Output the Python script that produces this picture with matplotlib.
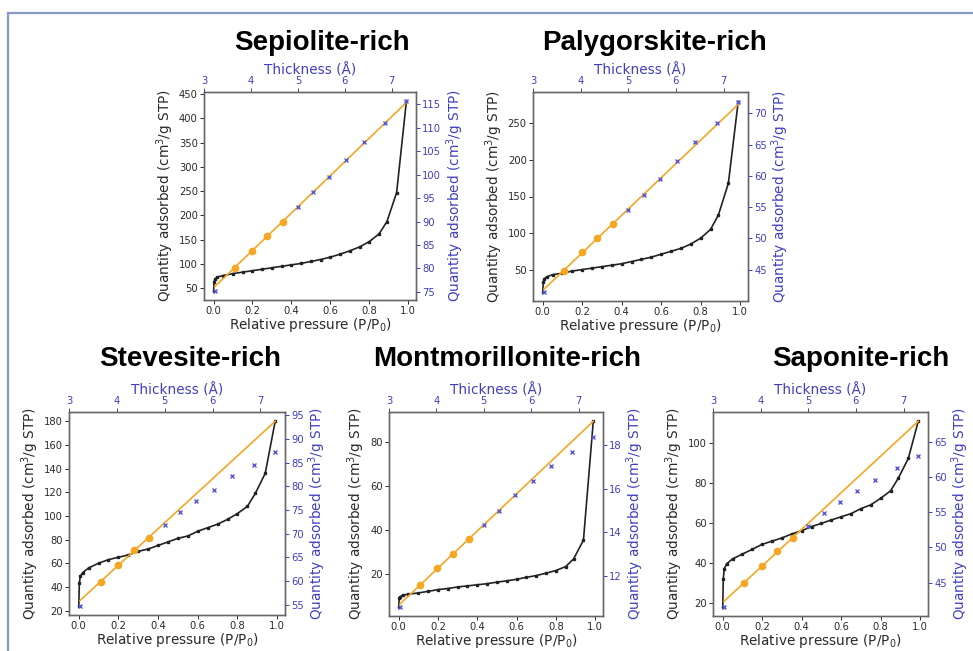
import matplotlib
matplotlib.use("Agg")
import matplotlib.pyplot as plt
import numpy as np
from matplotlib.lines import Line2D

# ---- data -------------------------------------------------------------
titles = ["Sepiolite-rich", "Palygorskite-rich", "Stevesite-rich",
          "Montmorillonite-rich", "Saponite-rich"]

# relative pressure points of the isotherms (P/P0)
pressure = [0.0005, 0.003, 0.008, 0.02, 0.05, 0.1, 0.15, 0.2, 0.25, 0.3,
            0.35, 0.4, 0.45, 0.5, 0.55, 0.6, 0.65, 0.7, 0.75, 0.8, 0.85,
            0.89, 0.94, 0.99]

# quantity adsorbed (cm3/g STP) along each isotherm
iso_sepiolite = [45, 63, 69, 73, 76, 80, 83, 86, 89, 92, 95, 98, 101, 105,
                 109, 114, 120, 127, 135, 146, 162, 187, 247, 435]
iso_palygorskite = [20, 33, 37, 40, 43, 45, 48, 50, 52, 54, 56, 58, 61, 64,
                    67, 71, 75, 79, 85, 93, 105, 125, 168, 280]
iso_stevensite = [24, 43, 49, 52, 56, 60, 63, 65, 67, 70, 72, 75, 78, 81,
                  83, 87, 90, 93, 97, 102, 108, 119, 136, 180]
iso_montmorillonite = [5, 8.8, 9.5, 10.3, 10.7, 11.3, 12, 12.8, 13.3, 14,
                       14.5, 15, 15.5, 16.2, 16.8, 17.5, 18.4, 19.2, 20.3,
                       21.5, 23.3, 26.8, 35.3, 89.5]
iso_saponite = [18, 32, 37, 39.5, 42, 44.4, 46.8, 49.3, 50.9, 52.5, 54.5,
                56.1, 58.2, 59.8, 61.5, 63.1, 64.7, 67.2, 69.1, 72.4, 76.1,
                82.6, 92.4, 111]

# statistical thickness (Angstrom) for the t-plot
thickness = [3.23, 3.66, 4.02, 4.35, 4.68, 5.0, 5.33, 5.66, 6.03, 6.41,
             6.86, 7.31]

# t-plot quantity adsorbed (cm3/g STP)
tplot_sepiolite = [75.3, 80.2, 83.8, 87.0, 90.0, 93.2, 96.3, 99.6, 103.2,
                   107.0, 111.1, 115.6]
tplot_palygorskite = [41.5, 44.85, 47.8, 50.0, 52.3, 54.6, 57.0, 59.5, 62.4,
                      65.4, 68.5, 71.9]
tplot_stevensite = [54.8, 59.8, 63.3, 66.5, 69.2, 71.8, 74.6, 76.9, 79.3,
                    82.1, 84.4, 87.2]
tplot_montmorillonite = [10.6, 11.6, 12.35, 13.0, 13.7, 14.34, 15.0, 15.7,
                         16.36, 17.04, 17.7, 18.35]
tplot_saponite = [41.55, 44.9, 47.4, 49.5, 51.3, 53.1, 54.9, 56.5, 58.0,
                  59.6, 61.3, 63.0]

# points used for the linear t-plot fit
fit_points = [1, 2, 3, 4]

# tick values
left_ticks = [
    [50, 100, 150, 200, 250, 300, 350, 400, 450],
    [50, 100, 150, 200, 250],
    [20, 40, 60, 80, 100, 120, 140, 160, 180],
    [20, 40, 60, 80],
    [20, 40, 60, 80, 100],
]
right_ticks = [
    [75, 80, 85, 90, 95, 100, 105, 110, 115],
    [45, 50, 55, 60, 65, 70],
    [55, 60, 65, 70, 75, 80, 85, 90, 95],
    [12, 14, 16, 18],
    [45, 50, 55, 60, 65],
]
pressure_ticks = [0.0, 0.2, 0.4, 0.6, 0.8, 1.0]
thickness_ticks = [3, 4, 5, 6, 7]

isotherms = [iso_sepiolite, iso_palygorskite, iso_stevensite,
             iso_montmorillonite, iso_saponite]
tplots = [tplot_sepiolite, tplot_palygorskite, tplot_stevensite,
          tplot_montmorillonite, tplot_saponite]

# ---- layout (pixel boxes: left, right, top, bottom) --------------------
W, H = 973, 651
boxes = [(204, 416, 92, 300), (533, 748, 92, 301),
         (69, 285, 412, 615), (389, 603, 412, 616), (713, 928, 412, 616)]
title_pos = [(322, 43), (655, 43), (190, 359), (507, 359), (861, 359)]

BLUE = "#3f3fc0"
ORANGE = "#f5a623"
SPINE = "#666666"
TXT = "#2a2a2a"
TICK_FS = 7.2
LABEL_FS = 9.8

fig = plt.figure(figsize=(W / 100, H / 100), dpi=100)

# framing rule
fig.add_artist(Line2D([8 / W, 8 / W], [0, 1 - 13 / H], color="#8a98c4",
                      lw=1.6, transform=fig.transFigure))
fig.add_artist(Line2D([8 / W, 1], [1 - 13 / H, 1 - 13 / H], color="#8a98c4",
                      lw=1.6, transform=fig.transFigure))

ylabel = "Quantity adsorbed (cm$^3$/g STP)"

for i in range(5):
    l, r, t, b = boxes[i]
    ax = fig.add_axes([l / W, 1 - b / H, (r - l) / W, (b - t) / H])
    axr = ax.twinx()
    axt = axr.twiny()

    # isotherm
    ax.plot(pressure, isotherms[i], color="#222222", lw=1.2, marker="s",
            ms=1.7)
    ax.set_xticks(pressure_ticks)
    ax.set_yticks(left_ticks[i])
    ax.set_xlabel("Relative pressure (P/P$_0$)", fontsize=LABEL_FS, color=TXT,
                  labelpad=0)
    ax.set_ylabel(ylabel, fontsize=LABEL_FS, color=TXT, labelpad=2)
    ax.tick_params(labelsize=TICK_FS, colors=TXT, length=3, width=0.7,
                   pad=1.5)

    # t-plot with linear fit
    tv = np.array(tplots[i])
    th = np.array(thickness)
    idx = np.array(fit_points)
    slope, icpt = np.polyfit(th[idx], tv[idx], 1)
    axt.plot(th, slope * th + icpt, color=ORANGE, lw=1.2, zorder=2)
    axt.plot(th, tv, ls="none", marker="x", ms=3.5, mew=1.0,
             color="#5a5ad6", zorder=3)
    axt.plot(th[idx], tv[idx], ls="none", marker="o", ms=4.5,
             color=ORANGE, zorder=4)

    axt.set_xticks(thickness_ticks)
    axr.set_yticks(right_ticks[i])
    axt.set_xlabel("Thickness (Å)", fontsize=LABEL_FS, color=BLUE,
                   labelpad=1)
    axr.set_ylabel(ylabel, fontsize=LABEL_FS, color=BLUE, labelpad=2)
    axt.tick_params(axis="x", labelsize=TICK_FS, colors=BLUE, length=3,
                    width=0.7, pad=1.5)
    axr.tick_params(axis="y", labelsize=TICK_FS, colors=BLUE, length=3,
                    width=0.7, pad=1.5)

    for a in (ax, axr, axt):
        for s in a.spines.values():
            s.set_color(SPINE)
            s.set_linewidth(0.9)

    fig.text(title_pos[i][0] / W, 1 - title_pos[i][1] / H, titles[i],
             ha="center", va="center", fontsize=20, fontweight="bold",
             family=["Liberation Sans", "DejaVu Sans"])

fig.savefig("out.png", dpi=100, facecolor="white")
